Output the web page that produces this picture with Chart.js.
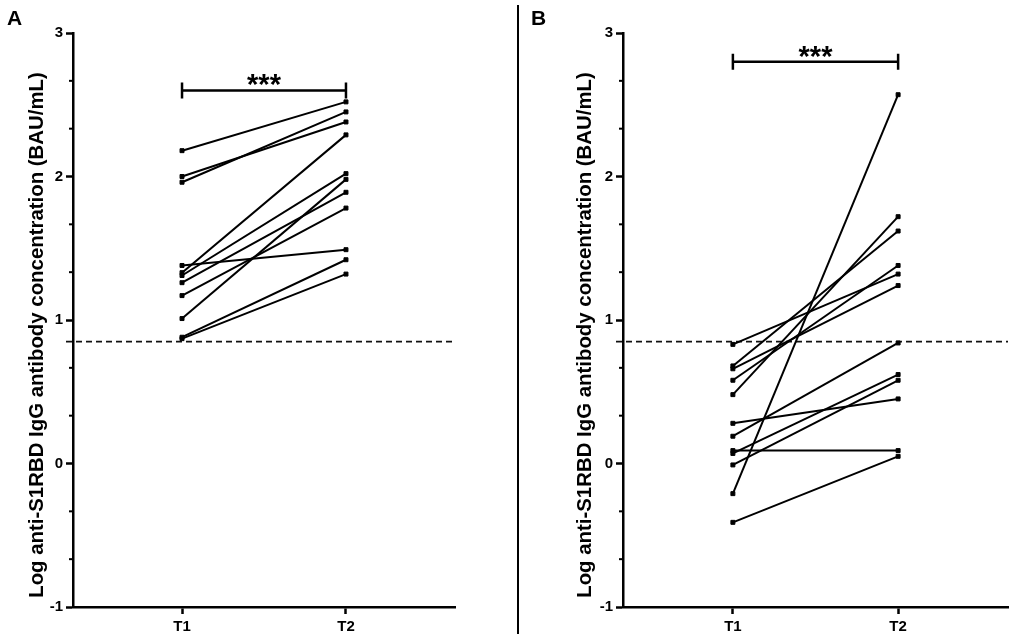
<!DOCTYPE html>
<html>
<head>
<meta charset="utf-8">
<title>Log anti-S1RBD IgG antibody concentration</title>
<script src="https://cdn.jsdelivr.net/npm/chart.js@4.4.1/dist/chart.umd.min.js"></script>
<style>
  html, body { margin: 0; padding: 0; background: #fff; }
  body { width: 1013px; height: 639px; position: relative; overflow: hidden; }
  canvas { position: absolute; top: 0; }
  #chartA { left: 0; }
  #chartB { left: 522px; }
  #divider { position: absolute; left: 517px; top: 5px; width: 2px; height: 629px; background: #000; }
  .tag { position: absolute; top: 6px; font: bold 21px "Liberation Sans", Arial, sans-serif; color: #000; line-height: normal; }
</style>
</head>
<body>
<canvas id="chartA" width="515" height="639"></canvas>
<canvas id="chartB" width="491" height="639"></canvas>
<div id="divider"></div>
<div class="tag" style="left:7px">A</div>
<div class="tag" style="left:531px">B</div>
<script>
// each index i is one subject: T1 value -> T2 value
const categories = ['T1', 'T2'];
const panelAT1 = [2.18, 2.00, 1.96, 1.38, 1.33, 1.31, 1.26, 1.17, 1.01, 0.88, 0.87];
const panelAT2 = [2.52, 2.38, 2.45, 1.49, 2.29, 2.02, 1.89, 1.78, 1.98, 1.42, 1.32];
const panelBT1 = [0.83, 0.68, 0.66, 0.58, 0.48, 0.28, 0.19, 0.09, 0.07, -0.01, -0.21, -0.41];
const panelBT2 = [1.32, 1.62, 1.24, 1.38, 1.72, 0.45, 0.84, 0.09, 0.62, 0.58, 2.57, 0.05];
const yMin = -1;
const yMax = 3;
const thresholdValue = 0.85;
const sigLevelA = 2.6;
const sigLevelB = 2.8;
const sigText = '***';
const yTitle = 'Log anti-S1RBD IgG antibody concentration (BAU/mL)';

const FONT = '"Liberation Sans", Arial, sans-serif';
Chart.defaults.font.family = FONT;
Chart.defaults.color = '#000';

// dashed cut-off line, minor y ticks, y title and the *** bracket
const pairMarks = {
  id: 'pairMarks',
  beforeDatasetsDraw(chart) {
    const { ctx, chartArea, scales: { y } } = chart;
    const yy = y.getPixelForValue(thresholdValue);
    ctx.save();
    ctx.strokeStyle = '#111';
    ctx.lineWidth = 1.7;
    ctx.setLineDash([6, 4]);
    ctx.beginPath();
    ctx.moveTo(chartArea.left - 7, yy);
    ctx.lineTo(chartArea.right, yy);
    ctx.stroke();
    ctx.restore();
  },
  afterDraw(chart, args, opts) {
    const { ctx, chartArea, scales: { x, y } } = chart;
    ctx.save();
    ctx.strokeStyle = '#000';
    ctx.lineWidth = 2;
    for (let v = yMin; v < yMax; v++) {
      for (let k = 1; k < 3; k++) {
        const py = y.getPixelForValue(v + k / 3);
        ctx.beginPath();
        ctx.moveTo(chartArea.left - 4, py);
        ctx.lineTo(chartArea.left, py);
        ctx.stroke();
      }
    }

    // axis title, sits a little below the plot centre like the original
    ctx.save();
    ctx.translate(opts.titleX, (chartArea.top + chartArea.bottom) / 2 + 15);
    ctx.rotate(-Math.PI / 2);
    ctx.fillStyle = '#000';
    ctx.font = 'bold 20.4px ' + FONT;
    ctx.textAlign = 'center';
    ctx.textBaseline = 'middle';
    ctx.fillText(yTitle, 0, 0);
    ctx.restore();

    const sy = y.getPixelForValue(opts.level);
    const x1 = x.getPixelForValue(0);
    const x2 = x.getPixelForValue(1);
    ctx.lineWidth = 2.5;
    ctx.beginPath();
    ctx.moveTo(x1, sy); ctx.lineTo(x2, sy);
    ctx.moveTo(x1, sy - 8); ctx.lineTo(x1, sy + 8);
    ctx.moveTo(x2, sy - 8); ctx.lineTo(x2, sy + 8);
    ctx.stroke();
    ctx.fillStyle = '#000';
    ctx.font = 'bold 29px ' + FONT;
    ctx.textAlign = 'center';
    ctx.textBaseline = 'alphabetic';
    ctx.fillText(sigText, (x1 + x2) / 2, sy + 4);
    ctx.restore();
  }
};

function pairDatasets(t1, t2) {
  return t1.map((v, i) => ({
    data: [{ x: 0, y: v }, { x: 1, y: t2[i] }],
    borderColor: '#000',
    backgroundColor: '#000',
    borderWidth: 2,
    pointStyle: 'rect',
    pointRadius: 2.8,
    pointBorderWidth: 1,
    fill: false,
    tension: 0
  }));
}

function makePanel(id, t1, t2, level, axisWidth, rightPad, titleX) {
  const axisLine = { display: true, color: '#000', width: 2.5 };
  const tickGrid = { display: true, drawOnChartArea: false, drawTicks: true, tickLength: 7, tickWidth: 2.5, tickColor: '#000' };
  return new Chart(document.getElementById(id), {
    type: 'line',
    data: { datasets: pairDatasets(t1, t2) },
    options: {
      responsive: false,
      animation: false,
      layout: { padding: { left: 0, top: 33, right: rightPad, bottom: 0 } },
      plugins: {
        legend: { display: false },
        tooltip: { enabled: false },
        pairMarks: { level: level, titleX: titleX }
      },
      scales: {
        x: {
          type: 'linear',
          min: -0.665,
          max: 1.665,
          afterBuildTicks: s => { s.ticks = categories.map((c, i) => ({ value: i })); },
          afterFit: s => { s.height = 32; },
          ticks: {
            autoSkip: false,
            maxRotation: 0,
            padding: 4,
            color: '#000',
            font: { size: 15, weight: 'bold' },
            callback: v => categories[v]
          },
          grid: tickGrid,
          border: axisLine
        },
        y: {
          min: yMin,
          max: yMax,
          afterFit: s => { s.width = axisWidth; },
          ticks: {
            stepSize: 1,
            padding: 3,
            color: '#000',
            font: { size: 15, weight: 'bold' }
          },
          grid: tickGrid,
          border: axisLine
        }
      }
    },
    plugins: [pairMarks]
  });
}

makePanel('chartA', panelAT1, panelAT2, sigLevelA, 73, 60, 37);
makePanel('chartB', panelBT1, panelBT2, sigLevelB, 101, 5, 63);
</script>
</body>
</html>
